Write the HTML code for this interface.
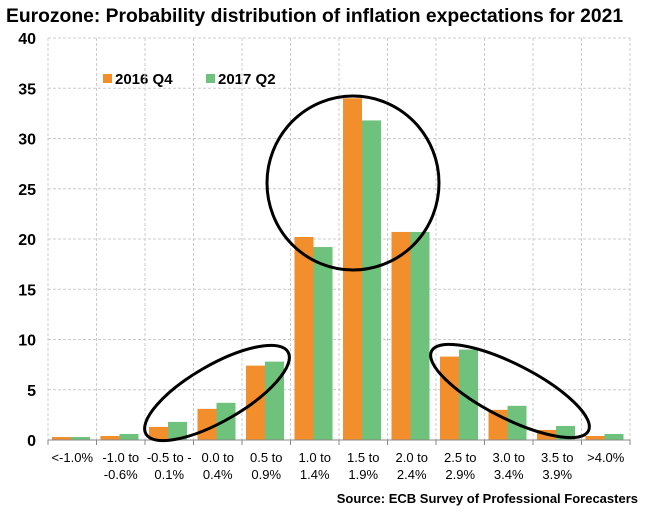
<!DOCTYPE html>
<html><head><meta charset="utf-8"><style>
body{margin:0;background:#fff;font-family:"Liberation Sans",Arial,sans-serif}
</style></head><body>
<svg width="645" height="519" id="c" font-family="Liberation Sans, Arial, sans-serif">
<text x="6" y="22" font-size="19.3" font-weight="bold">Eurozone: Probability distribution of inflation expectations for 2021</text>
<text x="638" y="503" font-size="13" font-weight="bold" text-anchor="end">Source: ECB Survey of Professional Forecasters</text>
<g>
<rect x="103" y="74" width="9" height="9" fill="#f28e2b"/>
<text x="115" y="84" font-size="15" font-weight="bold">2016 Q4</text>
<rect x="206" y="74" width="9" height="9" fill="#6fc27b"/>
<text x="218" y="84" font-size="15" font-weight="bold">2017 Q2</text>
</g>
<g id="grid"></g><g id="bars"></g><g id="axes"></g>
<g fill="none" stroke="#000" stroke-width="3">
<ellipse cx="353" cy="183" rx="86" ry="87"/>
<ellipse cx="217" cy="393" rx="82" ry="28" transform="rotate(-30 217 393)"/>
<ellipse cx="510" cy="391" rx="88" ry="27" transform="rotate(27 510 391)"/>
</g>
</svg>
<script>
const categories=[["<-1.0%",""],["-1.0 to","-0.6%"],["-0.5 to -","0.1%"],["0.0 to","0.4%"],["0.5 to","0.9%"],["1.0 to","1.4%"],["1.5 to","1.9%"],["2.0 to","2.4%"],["2.5 to","2.9%"],["3.0 to","3.4%"],["3.5 to","3.9%"],[">4.0%",""]];
const q42016=[0.3,0.4,1.3,3.1,7.4,20.2,34.0,20.7,8.3,3.0,1.0,0.4];
const q22017=[0.3,0.6,1.8,3.7,7.8,19.2,31.8,20.7,9.0,3.4,1.4,0.6];
const yTicks=[0,5,10,15,20,25,30,35,40];
const NS="http://www.w3.org/2000/svg";
const X0=48,X1=630,Y0=440,Y1=38;
const bw=(X1-X0)/categories.length;
const y=v=>Y0-(v/40)*(Y0-Y1);
const xc=i=>X0+i*bw;
function mk(t,a,p){const e=document.createElementNS(NS,t);for(const k in a)e.setAttribute(k,a[k]);p.appendChild(e);return e;}
const grid=document.getElementById('grid'),bars=document.getElementById('bars'),axes=document.getElementById('axes');
yTicks.forEach(t=>{
 if(t>0){const l=mk('line',{x1:X0,x2:X1,y1:y(t),y2:y(t),stroke:'#ccc','stroke-dasharray':'3,2'},grid);
 
 }
 const tx=mk('text',{x:36,y:y(t)+6,'font-size':16,'font-weight':'bold','text-anchor':'end'},axes);tx.textContent=t;
 
 
});
for(let i=0;i<=categories.length;i++){
 const l=mk('line',{x1:xc(i),x2:xc(i),y1:Y1,y2:Y0,stroke:'#ccc','stroke-dasharray':'3,2'},grid);
 
 
 const tk=mk('line',{x1:xc(i),x2:xc(i),y1:Y0,y2:Y0+5,stroke:'#888'},axes);
 
 
}
const ax=mk('line',{x1:X0,x2:X1,y1:Y0,y2:Y0,stroke:'#888'},axes);


categories.forEach((c,i)=>{
 const a=mk('rect',{x:xc(i)+4,y:y(q42016[i]),width:19,height:Y0-y(q42016[i]),fill:'#f28e2b'},bars);
 
 
 const b=mk('rect',{x:xc(i)+23,y:y(q22017[i]),width:19,height:Y0-y(q22017[i]),fill:'#6fc27b'},bars);
 
 
 c.forEach((s,j)=>{if(!s)return;
  const t=mk('text',{x:xc(i)+bw/2,y:462+j*17,'font-size':13,'text-anchor':'middle'},axes);t.textContent=s;
  
  });
});
</script>
</body></html>
